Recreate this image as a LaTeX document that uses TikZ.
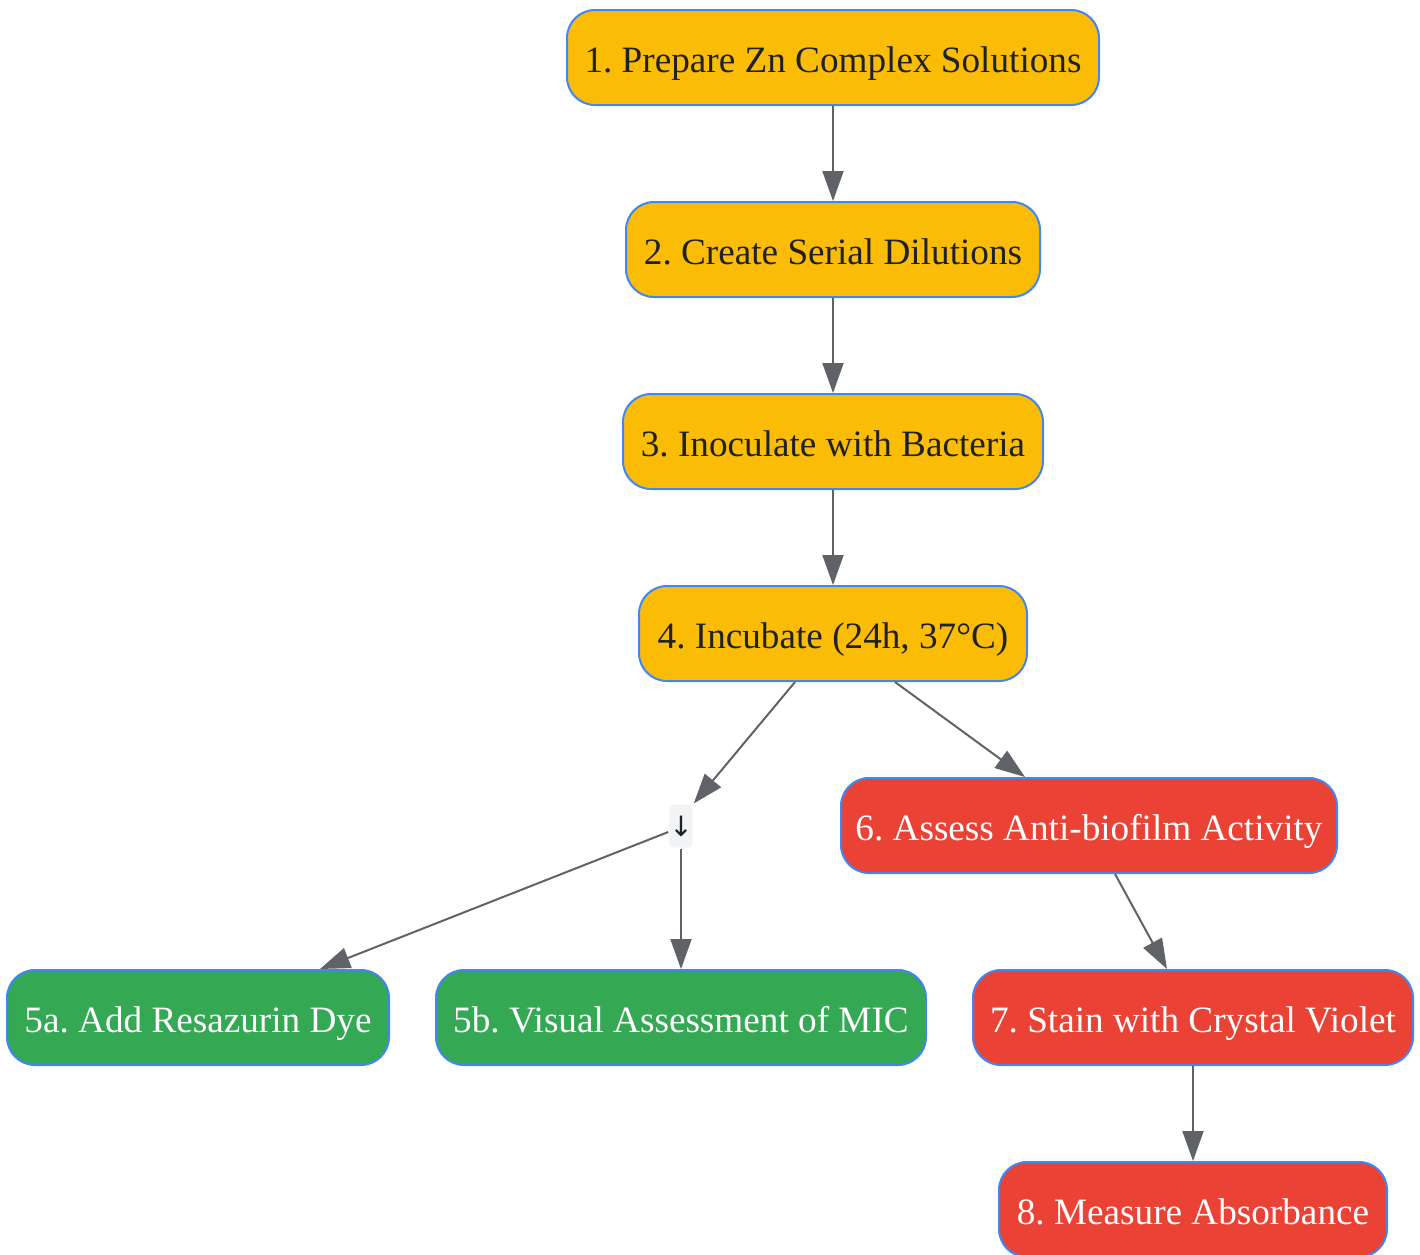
\documentclass[tikz,border=0pt]{standalone}
\usepackage{fontspec}
\setmainfont{Liberation Serif}
\newfontfamily\symfont{DejaVu Sans}
\frenchspacing
\usetikzlibrary{positioning,arrows.meta}
\definecolor{prepyellow}{HTML}{FBBC05}
\definecolor{micgreen}{HTML}{34A853}
\definecolor{biored}{HTML}{EA4335}
\definecolor{edgeblue}{HTML}{4285F4}
\definecolor{arrowgrey}{HTML}{5F6368}
\definecolor{textdark}{HTML}{202124}
\definecolor{splitgrey}{HTML}{F1F3F4}
\begin{document}
\begin{tikzpicture}[x=0.5pt, y=-0.5pt, >={Triangle[length=15pt,width=10.5pt]},
                    line width=1pt, node distance=47.5pt]
\tikzstyle{box}=[rectangle, rounded corners=14pt, draw=edgeblue, line width=1pt,
                 minimum height=47.5pt, inner sep=0pt, text height=16pt, text depth=1.5pt,
                 font=\fontsize{18.6}{22}\selectfont]
\tikzstyle{prep}=[box, fill=prepyellow, text=textdark]
\tikzstyle{mic}=[box, fill=micgreen, text=white]
\tikzstyle{bio}=[box, fill=biored, text=white]
\tikzstyle{link}=[->, color=arrowgrey, line width=1pt]
\useasboundingbox (0,0) rectangle (1420,1254);

\node [prep, minimum width=266pt] (n1) at (833,57.5) {1. Prepare Zn Complex Solutions};
\node [prep, minimum width=207pt] (n2) [below=of n1] {2. Create Serial Dilutions};
\node [prep, minimum width=210pt] (n3) [below=of n2] {3. Inoculate with Bacteria};
\node [prep, minimum width=194pt] (n4) [below=of n3] {4. Incubate (24h, 37°C)};

\node [rectangle, rounded corners=2pt, fill=splitgrey, minimum width=9pt, minimum height=21.5pt,
       inner sep=0pt, text=textdark, font=\symfont\fontsize{14}{16}\selectfont] (split) at (681,826) {↓};
\node [bio, minimum width=248pt] (n6) at (1089,825.5) {6. Assess Anti-biofilm Activity};

\node [mic, minimum width=191pt] (n5a) at (198,1017.5) {5a. Add Resazurin Dye};
\node [mic, minimum width=245pt] (n5b) at (681,1017.5) {5b. Visual Assessment of MIC};
\node [bio, minimum width=220pt] (n7) at (1193,1017.5) {7. Stain with Crystal Violet};
\node [bio, minimum width=194pt] (n8) [below=of n7] {8. Measure Absorbance};

\path (n1) edge [link] (n2);
\path (n2) edge [link] (n3);
\path (n3) edge [link] (n4);
\path ([xshift=-19pt]n4.south) edge [link] (split.north east);
\path ([xshift=31pt]n4.south) edge [link] ([xshift=-32pt]n6.north);
\path ([yshift=-3pt]split.west) edge [link] ([xshift=61pt]n5a.north);
\path (split) edge [link] (n5b);
\path ([xshift=13pt]n6.south) edge [link] ([xshift=-13pt]n7.north);
\path (n7) edge [link] (n8);
\end{tikzpicture}
\end{document}
